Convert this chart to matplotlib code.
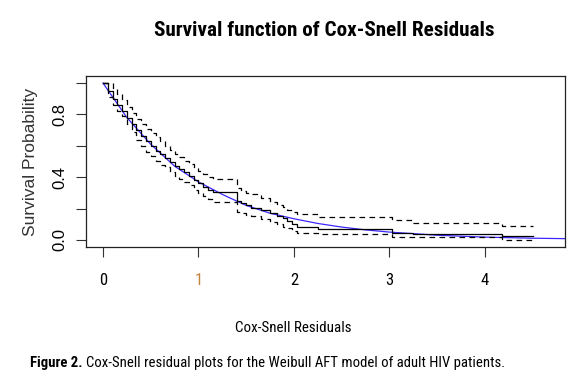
import numpy as np
import matplotlib.pyplot as plt

narrow = ['Roboto Condensed', 'DejaVu Sans']
plain = ['Liberation Sans', 'DejaVu Sans']

# Kaplan-Meier estimate of the Cox-Snell residuals
km_time = [0.00, 0.05, 0.10, 0.15, 0.20, 0.25, 0.30, 0.35, 0.40, 0.45, 0.50,
           0.55, 0.60, 0.65, 0.70, 0.75, 0.80, 0.85, 0.90, 0.95, 1.00, 1.05,
           1.10, 1.15, 1.40, 1.45, 1.50, 1.55, 1.65, 1.75, 1.82, 1.88, 1.93,
           1.98, 2.03, 2.25, 3.03, 3.25, 4.18, 4.50]
km_surv = [1.00, 0.95, 0.90, 0.86, 0.82, 0.78, 0.74, 0.70, 0.665, 0.63, 0.60,
           0.57, 0.545, 0.52, 0.495, 0.47, 0.45, 0.43, 0.41, 0.38, 0.36, 0.34,
           0.32, 0.305, 0.25, 0.235, 0.22, 0.205, 0.19, 0.17, 0.155, 0.14, 0.12,
           0.10, 0.085, 0.07, 0.045, 0.037, 0.025, 0.025]
km_upper = [1.00, 1.00, 0.96, 0.93, 0.89, 0.85, 0.81, 0.77, 0.74, 0.71, 0.68,
            0.655, 0.63, 0.60, 0.575, 0.55, 0.53, 0.505, 0.485, 0.46, 0.44, 0.42,
            0.40, 0.39, 0.33, 0.31, 0.30, 0.29, 0.27, 0.245, 0.225, 0.21, 0.19,
            0.175, 0.165, 0.147, 0.125, 0.105, 0.09, 0.09]
km_lower = [1.00, 0.91, 0.86, 0.82, 0.79, 0.74, 0.69, 0.64, 0.60, 0.56, 0.535,
            0.50, 0.48, 0.465, 0.43, 0.405, 0.39, 0.37, 0.35, 0.32, 0.30, 0.28,
            0.26, 0.245, 0.18, 0.17, 0.16, 0.15, 0.135, 0.115, 0.10, 0.085, 0.075,
            0.06, 0.045, 0.038, 0.02, 0.019, 0.002, 0.002]

# reference curve (blue)
ref_x = [0.0, 0.25, 0.5, 0.75, 1.0, 1.25, 1.5, 1.75, 2.0, 2.25, 2.5, 2.75,
         3.0, 3.5, 4.0, 4.5, 5.0]
ref_y = [1.0, 0.78, 0.61, 0.47, 0.37, 0.29, 0.22, 0.17, 0.135, 0.105, 0.082,
         0.064, 0.05, 0.03, 0.018, 0.011, 0.007]

x_ticks = [0, 1, 2, 3, 4]
y_ticks = [0.0, 0.2, 0.4, 0.6, 0.8, 1.0]
y_labels = ['0.0', '', '0.4', '', '0.8', '']

W, H = 579, 387
fig = plt.figure(figsize=(W / 100, H / 100), dpi=100)
ax = fig.add_axes([86 / W, 1 - 247 / H, 479 / W, 171 / H])

ax.plot(ref_x, ref_y, color='#3c28ff', lw=0.9)
ax.step(km_time, km_surv, where='post', color='black', lw=0.9)
ax.step(km_time, km_upper, where='post', color='black', lw=0.9, dashes=(4.5, 3.5))
ax.step(km_time, km_lower, where='post', color='black', lw=0.9, dashes=(4.5, 3.5))

ax.set_xlim(-0.178, 4.838)
ax.set_ylim(-0.045, 1.045)

ax.set_xticks(x_ticks)
ax.set_xticklabels([str(t) for t in x_ticks], family=narrow, fontsize=12)
ax.get_xticklabels()[1].set_color('#c4843e')
ax.set_yticks(y_ticks)
ax.set_yticklabels(y_labels, family=plain, fontsize=12, rotation=90, va='center')
ax.tick_params(direction='out', length=7.5, width=0.8, color='#333333')
ax.tick_params(axis='x', pad=11.5)
ax.tick_params(axis='y', pad=6)
for s in ax.spines.values():
    s.set_linewidth(0.9)
    s.set_color('#222222')

ax.set_ylabel('Survival Probability', family=plain, fontsize=12.5, labelpad=10, color='#333333')
fig.text(293 / W, 1 - 328 / H, 'Cox-Snell Residuals', family=narrow, fontsize=10.8,
         ha='center', va='center')
fig.text(324 / W, 1 - 30 / H, 'Survival function of Cox-Snell Residuals', family=narrow,
         fontsize=15.2, fontweight='bold', ha='center', va='center')

# caption: bold "Figure 2." followed by regular text
fig.canvas.draw()
r = fig.canvas.get_renderer()
t1 = fig.text(30 / W, 1 - 363 / H, 'Figure 2.', family=narrow, fontsize=10.6,
              fontweight='bold', va='center')
bb = t1.get_window_extent(r)
fig.text((bb.x1 + 3) / W, 1 - 363 / H,
         'Cox-Snell residual plots for the Weibull AFT model of adult HIV patients.',
         family=narrow, fontsize=10.6, va='center')

fig.savefig('out.png', dpi=100)
